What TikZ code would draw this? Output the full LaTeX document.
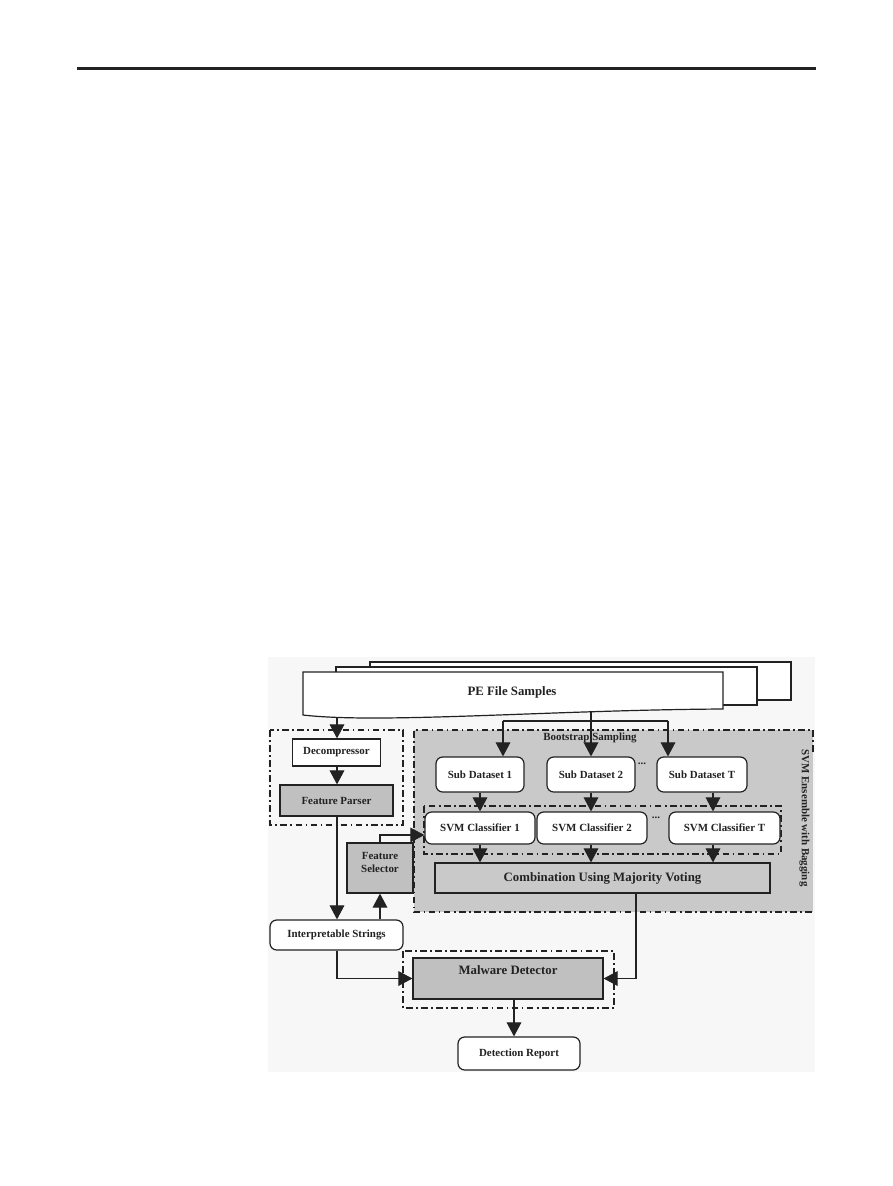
\documentclass[tikz,border=0pt]{standalone}
\usepackage{fontspec}
\setmainfont{Liberation Serif}
\usetikzlibrary{arrows.meta,calc}
\definecolor{ink}{HTML}{222222}
\definecolor{ensgray}{HTML}{C9C9C9}
\definecolor{boxgray}{HTML}{C0C0C0}
\definecolor{panel}{HTML}{F7F7F7}
\tikzset{
  sm/.style={font=\fontsize{8.2}{9.8}\selectfont\bfseries, text=ink},
  bg/.style={font=\fontsize{9.6}{11.5}\selectfont\bfseries, text=ink},
  plainbox/.style={draw=ink, line width=0.9pt, fill=white, inner sep=0pt},
  graybox/.style={draw=ink, line width=0.9pt, fill=boxgray, inner sep=0pt},
  roundbox/.style={draw=ink, line width=0.9pt, fill=white, rounded corners=5pt, inner sep=0pt},
  dashdot/.style={draw=ink, line width=1.1pt, dash pattern=on 5pt off 2.5pt on 1.3pt off 2.5pt},
  arr/.style={draw=ink, line width=0.8pt, -{Triangle[length=10.5pt,width=11pt]}},
  ln/.style={draw=ink, line width=0.8pt},
}
\begin{document}
\begin{tikzpicture}[x=0.75pt,y=-0.75pt]
\useasboundingbox (0,0) rectangle (893,1186);
% top rule
\draw[ink, line width=1.6pt] (77,68.5) -- (816,68.5);
% faint panel
\fill[panel] (268,657) rectangle (815,1072);

% stacked documents
\draw[ink, line width=0.9pt, fill=white] (370,662) rectangle (791,700);
\draw[ink, line width=0.9pt, fill=white] (336,667) rectangle (757,705);
\draw[ink, line width=0.9pt, fill=white] (303,672) -- (723,672) -- (723,709)
   .. controls (550,710) and (380,724) .. (303,715) -- cycle;
\node[bg] (pe) at (512,692) {PE File Samples};
\coordinate (docL) at (337,717.5);
\coordinate (docM) at (591,711);

% left dash-dot group
\draw[dashdot] (270,730) rectangle (403,825);
\node[plainbox, sm, minimum width=66pt, minimum height=20.25pt] (dec) at (336.5,752.5) {Decompressor};
\node[graybox, sm, minimum width=84.75pt, minimum height=23.25pt] (fp) at (336.5,800.5) {Feature Parser};

% ensemble group
\fill[ensgray] (414,730) rectangle (813,912);
\draw[dashdot] (813,752) -- (813,730) -- (414,730) -- (414,912) -- (813,912);
\node[sm] (boot) at (590,738) {Bootstrap Sampling};
\node[sm, rotate=-90] (ens) at (804.5,818) {SVM Ensemble with Bagging};

\node[roundbox, sm, minimum width=66pt, minimum height=26.25pt] (sd1) at (480,774.5) {Sub Dataset 1};
\node[roundbox, sm, minimum width=66pt, minimum height=26.25pt] (sd2) at (591,774.5) {Sub Dataset 2};
\node[roundbox, sm, minimum width=67.5pt, minimum height=26.25pt] (sdT) at (702,774.5) {Sub Dataset T};
\node[sm] (dots1) at (642,764) {...};

\draw[dashdot] (424,806) rectangle (781,854);
\node[roundbox, sm, minimum width=82.5pt, minimum height=24pt] (svm1) at (480,828) {SVM Classifier 1};
\node[roundbox, sm, minimum width=82.5pt, minimum height=24pt] (svm2) at (592,828) {SVM Classifier 2};
\node[roundbox, sm, minimum width=83.25pt, minimum height=24pt] (svmT) at (724.5,828) {SVM Classifier T};
\node[sm] (dots2) at (656,818) {...};

\node[draw=ink, line width=0.9pt, fill=ensgray, bg, minimum width=251.25pt, minimum height=22.5pt, inner sep=0pt] (comb) at (602.5,878) {Combination Using Majority Voting};

% feature selector
\node[graybox, sm, minimum width=49.5pt, minimum height=37.5pt, align=center] (fs) at (380,868) {};
\node[sm, align=center] (fslbl) at (380,862.5) {Feature\\Selector};

% interpretable strings
\node[roundbox, sm, minimum width=99.75pt, minimum height=22.5pt] (is) at (336.5,935) {Interpretable Strings};

% malware detector
\draw[dashdot] (403,951) rectangle (614,1008);
\node[graybox, bg, minimum width=142.5pt, minimum height=30.75pt] (md) at (508,978.5) {};
\node[bg] (mdlbl) at (508,970) {Malware Detector};

\node[roundbox, sm, minimum width=91.5pt, minimum height=24.75pt] (dr) at (519,1053.5) {Detection Report};

% connectors
\draw[arr] (docL) -- (dec.north -| docL);
\draw[arr] (dec.south -| docL) -- (fp.north -| docL);
\draw[ln] (docM) -- (591,721);
\draw[ln] (503,721) -- (668,721);
\draw[arr] (591,721) -- (sd2.north);
\draw[arr] (503,721) -- (sd1.north -| 503,0);
\draw[arr] (668,721) -- (sdT.north -| 668,0);

\draw[arr] (sd1.south) -- (svm1.north -| sd1.south);
\draw[arr] (sd2.south) -- (svm2.north -| sd2.south);
\draw[arr] (sdT.south -| 713,0) -- (svmT.north -| 713,0);

\draw[arr] (svm1.south -| 480,0) -- (comb.north -| 480,0);
\draw[arr] (svm2.south -| 591,0) -- (comb.north -| 591,0);
\draw[arr] (svmT.south -| 713,0) -- (comb.north -| 713,0);

\draw[arr] (fp.south -| docL) -- (is.north -| docL);
\draw[arr] (is.north -| fs.north) -- (fs.south);
\draw[arr] (fs.north) |- ($(svm1.west)+(0,7)$);

\draw[arr] (is.south -| docL) |- (md.west);
\draw[arr] (comb.south -| 636,0) |- (md.east);
\draw[arr] (md.south -| 514,0) -- (dr.north -| 514,0);
\end{tikzpicture}
\end{document}
